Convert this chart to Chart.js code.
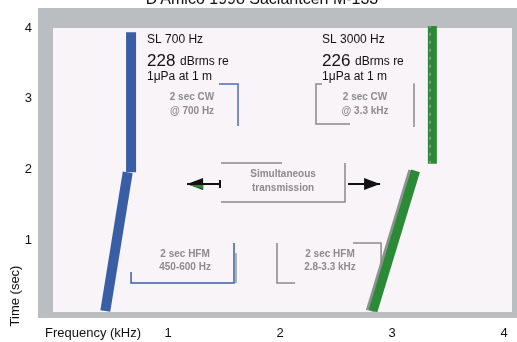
<!DOCTYPE html>
<html>
<head>
<meta charset="utf-8">
<script src="https://cdn.jsdelivr.net/npm/chart.js@4.4.0/dist/chart.umd.min.js"></script>
<style>
  html, body { margin: 0; padding: 0; background: #ffffff; }
  #wrap { width: 517px; height: 342px; position: relative; }
</style>
</head>
<body>
<div id="wrap"><canvas id="myChart"></canvas></div>
<script>
// ---------------- data (frequency in kHz, time in sec) ----------------
const xTicks = [1, 2, 3, 4];
const yTicks = [1, 2, 3, 4];

// 700 Hz source : HFM sweep then CW tone
const blueHfmTime = [0, 1.96];
const blueHfmFreq = [0.44, 0.64];
const blueCwTime = [1.96, 3.94];
const blueCwFreq = [0.67, 0.67];

// 3000 Hz source : HFM sweep then CW tone
const greenHfmTime = [0, 1.98];
const greenHfmFreq = [2.83, 3.21];
const greenCwTime = [2.08, 4.03];
const greenCwFreq = [3.36, 3.36];

const toPoints = (fx, ty) => fx.map((f, i) => ({ x: f, y: ty[i] }));

const BLUE = '#3a5ea6';
const GREEN = '#2b8a35';
const SHADOW = '#8d918f';

// ---------------- annotations (data units) ----------------
const notes = [
  { lines: [[1.455, 3.209], [1.625, 3.209], [1.625, 2.615]], color: '#4a6fb5' },
  { lines: [[2.375, 3.209], [2.321, 3.209], [2.321, 2.643], [2.625, 2.643]], color: '#8a8a8a' },
  { lines: [[3.196, 3.22], [3.196, 2.60]], color: '#8a8a8a' },
  { lines: [[1.473, 2.092], [2.018, 2.092]], color: '#8a8a8a' },
  { lines: [[2.58, 2.092], [2.58, 1.541], [1.473, 1.541]], color: '#8a8a8a' },
  { lines: [[0.67, 0.551], [0.67, 0.396], [1.589, 0.396], [1.589, 0.961]], color: '#3a5ea6' },
  { lines: [[1.607, 0.82], [1.607, 0.396]], color: '#9a9a9a' },
  { lines: [[1.973, 0.961], [1.973, 0.396], [2.134, 0.396]], color: '#8a8a8a' },
  { lines: [[2.652, 0.961], [2.902, 0.961], [2.902, 0.678]], color: '#8a8a8a' }
];

const grayLabels = [
  { x: 1.214, y: 3.025, t: '2 sec CW' },
  { x: 1.214, y: 2.827, t: '@ 700 Hz' },
  { x: 2.759, y: 3.025, t: '2 sec CW' },
  { x: 2.759, y: 2.827, t: '@ 3.3 kHz' },
  { x: 2.027, y: 1.936, t: 'Simultaneous' },
  { x: 2.027, y: 1.739, t: 'transmission' },
  { x: 1.152, y: 0.806, t: '2 sec HFM' },
  { x: 1.152, y: 0.622, t: '450-600 Hz' },
  { x: 2.446, y: 0.806, t: '2 sec HFM' },
  { x: 2.446, y: 0.622, t: '2.8-3.3 kHz' }
];

const slLabels = [
  { x: 0.8125, head: 'SL 700 Hz', level: '228' },
  { x: 2.375, head: 'SL 3000 Hz', level: '226' }
];

const FONT = '"Liberation Sans", Arial, sans-serif';

const decor = {
  id: 'decor',
  beforeDatasetsDraw(chart) {
    const { ctx, chartArea: a } = chart;
    ctx.save();
    // grey frame + pale plot area
    ctx.fillStyle = '#babec0';
    ctx.fillRect(a.left - 15, a.top - 20, a.right - a.left + 20, a.bottom - a.top + 26);
    ctx.fillStyle = '#f8f4f8';
    ctx.fillRect(a.left, a.top, a.right - a.left, a.bottom - a.top);
    ctx.restore();
  },
  afterDatasetsDraw(chart) {
    const { ctx, chartArea: a, scales: { x, y } } = chart;
    const P = (dx, dy) => [x.getPixelForValue(dx), y.getPixelForValue(dy)];
    ctx.save();

    // bracket lines
    ctx.lineWidth = 1.5;
    notes.forEach(n => {
      ctx.strokeStyle = n.color;
      ctx.beginPath();
      n.lines.forEach((p, i) => {
        const [px, py] = P(p[0], p[1]);
        if (i === 0) ctx.moveTo(px, py); else ctx.lineTo(px, py);
      });
      ctx.stroke();
    });

    // arrows
    const arrow = (x0, x1, yy, dir) => {
      const [p0, py] = P(x0, yy);
      const [p1] = P(x1, yy);
      ctx.strokeStyle = '#111';
      ctx.lineWidth = 2;
      ctx.beginPath(); ctx.moveTo(p0, py); ctx.lineTo(p1, py); ctx.stroke();
      const tip = dir < 0 ? p0 : p1;
      ctx.fillStyle = '#111';
      ctx.beginPath();
      ctx.moveTo(tip, py);
      ctx.lineTo(tip - dir * 16, py - 6);
      ctx.lineTo(tip - dir * 16, py + 6);
      ctx.closePath();
      ctx.fill();
    };
    arrow(1.17, 1.464, 1.795, -1);
    const [lt, lty] = P(1.464, 1.795);
    ctx.beginPath(); ctx.moveTo(lt, lty - 4); ctx.lineTo(lt, lty + 4); ctx.stroke();
    ctx.fillStyle = GREEN;
    ctx.beginPath();
    const [gx, gy] = P(1.19, 1.795);
    ctx.moveTo(gx, gy + 1); ctx.lineTo(gx + 14, gy + 1); ctx.lineTo(gx + 14, gy + 5); ctx.closePath(); ctx.fill();
    arrow(2.607, 2.893, 1.795, 1);

    // small grey labels
    ctx.fillStyle = '#8c8c8c';
    ctx.font = 'bold 10px ' + FONT;
    ctx.textAlign = 'center';
    ctx.textBaseline = 'middle';
    grayLabels.forEach(l => {
      const [px, py] = P(l.x, l.y);
      ctx.fillText(l.t, px, py);
    });

    // source level labels
    ctx.fillStyle = '#111';
    ctx.textAlign = 'left';
    slLabels.forEach(s => {
      const [px, py1] = P(s.x, 3.83);
      const [, py2] = P(s.x, 3.548);
      const [, py3] = P(s.x, 3.307);
      ctx.font = '12px ' + FONT;
      ctx.fillText(s.head, px, py1);
      ctx.font = '17px ' + FONT;
      ctx.fillText(s.level, px, py2 + 1);
      const w = ctx.measureText(s.level + ' ').width;
      ctx.font = '12px ' + FONT;
      ctx.fillText('dBrms re', px + w, py2 + 2);
      ctx.fillText('1\u03BCPa at 1 m', px, py3);
    });

    // tick labels
    ctx.font = '13px ' + FONT;
    ctx.fillStyle = '#111';
    ctx.textAlign = 'center';
    xTicks.forEach(v => ctx.fillText(String(v), x.getPixelForValue(v), a.bottom + 21));
    ctx.textAlign = 'right';
    yTicks.forEach(v => ctx.fillText(String(v), a.left - 21, y.getPixelForValue(v)));

    // axis titles
    ctx.textAlign = 'left';
    ctx.fillText('Frequency (kHz)', a.left - 8, a.bottom + 21);
    ctx.save();
    ctx.translate(15, 296);
    ctx.rotate(-Math.PI / 2);
    ctx.textAlign = 'center';
    ctx.fillText('Time (sec)', 0, 0);
    ctx.restore();

    // chart title (cut by the top edge)
    ctx.font = '16px ' + FONT;
    ctx.textAlign = 'center';
    ctx.textBaseline = 'alphabetic';
    ctx.fillText("D'Amico 1998 Saclantcen M-133", 262, 4);

    ctx.restore();
  }
};

const lineDs = (data, color, width, extra) => Object.assign({
  data, borderColor: color, backgroundColor: color, borderWidth: width,
  pointRadius: 0, borderCapStyle: 'butt', tension: 0, clip: false
}, extra || {});

// first dataset in the list is painted on top
const config = {
  type: 'line',
  data: {
    datasets: [
      lineDs(toPoints(blueHfmFreq, blueHfmTime), BLUE, 10),
      lineDs(toPoints(blueCwFreq, blueCwTime), BLUE, 10),
      lineDs(toPoints(greenCwFreq.map(f => f - 0.022), greenCwTime), SHADOW, 2, { borderDash: [3, 5] }),
      lineDs(toPoints(greenHfmFreq, greenHfmTime), GREEN, 9),
      lineDs(toPoints(greenCwFreq, greenCwTime), GREEN, 9),
      lineDs(toPoints(greenHfmFreq.map(f => f - 0.025), greenHfmTime), SHADOW, 9)
    ]
  },
  options: {
    responsive: false,
    animation: false,
    devicePixelRatio: 1,
    layout: { padding: { left: 53, top: 28, right: 5, bottom: 30 } },
    plugins: { legend: { display: false }, tooltip: { enabled: false }, title: { display: false } },
    scales: {
      x: { type: 'linear', min: -0.027, max: 4.071, display: false },
      y: { type: 'linear', min: -0.014, max: 4.0, display: false }
    }
  },
  plugins: [decor]
};

const canvas = document.getElementById('myChart');
canvas.width = 517;
canvas.height = 342;
var chart = new Chart(canvas, config);
</script>
</body>
</html>
